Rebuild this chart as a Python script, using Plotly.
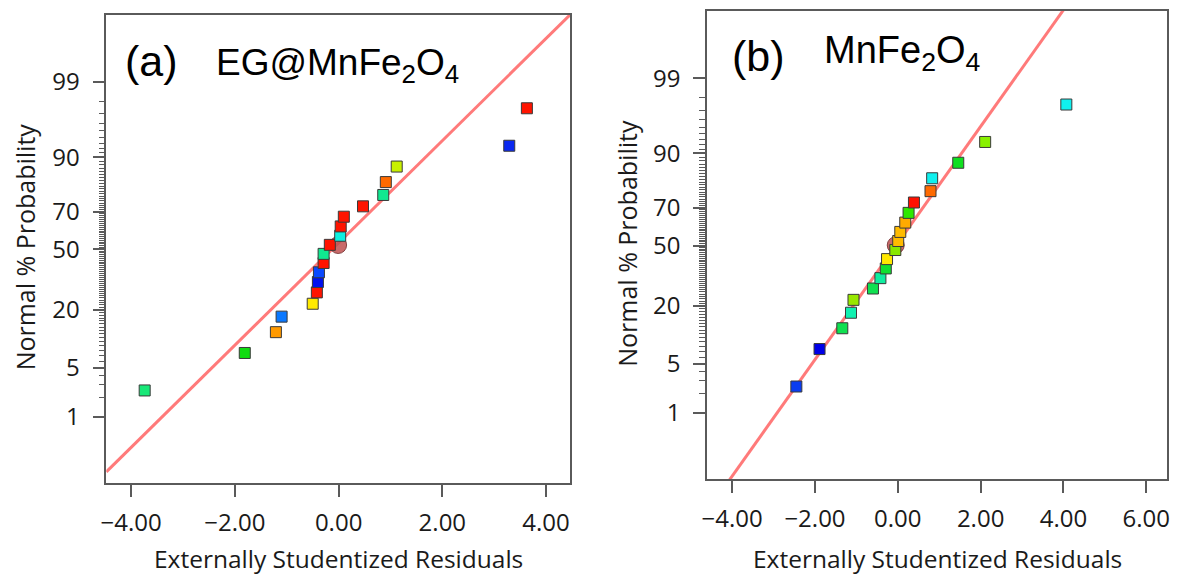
import plotly.graph_objects as go
from statistics import NormalDist

# ---------------- data ----------------
prob_pct = [2.5, 7.5, 12.5, 17.5, 22.5, 27.5, 32.5, 37.5, 42.5, 47.5,
            52.5, 57.5, 62.5, 67.5, 72.5, 77.5, 82.5, 87.5, 92.5, 97.5]

resid_a = [-3.74, -1.81, -1.21, -1.10, -0.50, -0.42, -0.40, -0.38, -0.29, -0.29,
           -0.17, 0.03, 0.04, 0.10, 0.47, 0.86, 0.91, 1.12, 3.29, 3.63]
colors_a = ["#18e878", "#10dc10", "#ff9a00", "#0a78ff", "#ffea00", "#ff1400",
            "#0010ee", "#0a48ff", "#ff1400", "#10e890", "#ff1400", "#10f0e0",
            "#ff1400", "#ff1400", "#ff1400", "#10e890", "#ff6a00", "#c8f000",
            "#0a28f0", "#ff1400"]

resid_b = [-2.45, -1.89, -1.34, -1.13, -1.07, -0.60, -0.42, -0.29, -0.26, -0.06,
           0.01, 0.06, 0.18, 0.26, 0.39, 0.79, 0.83, 1.46, 2.11, 4.07]
colors_b = ["#0a3cf0", "#0000e8", "#10e050", "#10f0b0", "#98e800", "#10e050",
            "#10eea0", "#10e030", "#ffe800", "#88e800", "#ffbb00", "#ffbb00",
            "#ffaa00", "#30e800", "#ff1000", "#ff6a00", "#10f0ee", "#10e020",
            "#88f000", "#10f0ee"]

# highlighted point (circle)
circle_a = (-0.01, 52.4)
circle_b = (-0.05, 50.2)

# reference lines: z = intercept + slope * residual
line_a = dict(slope=0.71, intercept=0.09)
line_b = dict(slope=0.81, intercept=0.034)

x_range_a = [-4.48, 4.47]
x_range_b = [-4.61, 6.51]
y_range = [-3.25, 3.26]

major_pct = [1, 5, 20, 50, 70, 90, 99]
minor_pct = [p for p in range(1, 100) if p not in major_pct]

# ---------------- helpers ----------------
nd = NormalDist()
def z(p):
    return nd.inv_cdf(p / 100.0)

W, H = 1179, 576
def px(x):
    return x / W
def py(y):
    return 1 - y / H

FONT = "Open Sans"
AX = "#5a5a5a"

fig = go.Figure()

def add_panel(xref, yref, resid, colors, circ, line, xr):
    fig.add_trace(go.Scatter(
        x=xr, y=[line["intercept"] + line["slope"] * v for v in xr],
        mode="lines", line=dict(color="#ff7a7a", width=3),
        xaxis=xref, yaxis=yref, showlegend=False, hoverinfo="skip"))
    fig.add_trace(go.Scatter(
        x=[circ[0]], y=[z(circ[1])], mode="markers",
        marker=dict(symbol="circle", size=17, color="rgba(190,80,80,0.85)",
                    line=dict(color="rgba(110,40,40,0.8)", width=1)),
        xaxis=xref, yaxis=yref, showlegend=False))
    fig.add_trace(go.Scatter(
        x=resid, y=[z(p) for p in prob_pct], mode="markers",
        marker=dict(symbol="square", size=11, color=colors,
                    line=dict(color="#3a3a3a", width=1)),
        xaxis=xref, yaxis=yref, showlegend=False))

add_panel("x", "y", resid_a, colors_a, circle_a, line_a, x_range_a)
add_panel("x2", "y2", resid_b, colors_b, circle_b, line_b, x_range_b)

xcommon = dict(showline=True, mirror=True, linecolor=AX, linewidth=1.5,
               ticks="outside", ticklen=12, tickwidth=1.5, tickcolor=AX,
               tickmode="linear", tick0=0, dtick=2, tickformat=".2f",
               showgrid=False, zeroline=False, ticklabelstandoff=5,
               tickfont=dict(family=FONT, size=24, color="#1a1a1a"))
ycommon = dict(showline=True, mirror=True, linecolor=AX, linewidth=1.5,
               ticks="outside", ticklen=12, tickwidth=1.5, tickcolor=AX,
               tickmode="array", tickvals=[z(p) for p in major_pct],
               ticktext=[str(p) for p in major_pct], range=y_range,
               showgrid=False, zeroline=False, ticklabelstandoff=8,
               minor=dict(tickmode="array", tickvals=[z(p) for p in minor_pct],
                          ticks="outside", ticklen=6, tickwidth=1, tickcolor=AX,
                          showgrid=False),
               tickfont=dict(family=FONT, size=24, color="#1a1a1a"))

fig.update_layout(
    width=W, height=H, margin=dict(l=0, r=0, t=0, b=0),
    paper_bgcolor="white", plot_bgcolor="white",
    xaxis=dict(domain=[px(101), px(568.3)], range=x_range_a, anchor="y", **xcommon),
    yaxis=dict(domain=[py(483.3), py(14.7)], anchor="x", **ycommon),
    xaxis2=dict(domain=[px(705.7), px(1169.3)], range=x_range_b, anchor="y2", **xcommon),
    yaxis2=dict(domain=[py(479.3), py(11)], anchor="x2", **ycommon),
)

ann = []
TF = "Liberation Sans, Arial"
ann.append(dict(text="(a)", x=px(118), y=py(61), xanchor="left", yanchor="middle",
                font=dict(family=TF, size=43, color="black")))
ann.append(dict(text="EG@MnFe<sub>2</sub>O<sub>4</sub>", x=px(209), y=py(65),
                xanchor="left", yanchor="middle",
                font=dict(family=TF, size=37, color="black")))
ann.append(dict(text="(b)", x=px(729), y=py(56), xanchor="left", yanchor="middle",
                font=dict(family=TF, size=43, color="black")))
ann.append(dict(text="MnFe<sub>2</sub>O<sub>4</sub>", x=px(822), y=py(53),
                xanchor="left", yanchor="middle",
                font=dict(family=TF, size=38, color="black")))
for xc, yc in [(20, 246.5), (625, 243)]:
    ann.append(dict(text="Normal % Probability", x=px(xc), y=py(yc), textangle=-90,
                    xanchor="center", yanchor="middle",
                    font=dict(family=FONT, size=25, color="#1a1a1a")))
for xc in [334.6, 938]:
    ann.append(dict(text="Externally Studentized Residuals", x=px(xc), y=py(558.5),
                    xanchor="center", yanchor="middle",
                    font=dict(family=FONT, size=24.5, color="#1a1a1a")))
for a in ann:
    a.update(xref="paper", yref="paper", showarrow=False)
fig.update_layout(annotations=ann)

fig.write_html("out.html", config={"displayModeBar": False},
               post_script="document.body.style.margin='0';document.body.style.overflow='hidden';")
